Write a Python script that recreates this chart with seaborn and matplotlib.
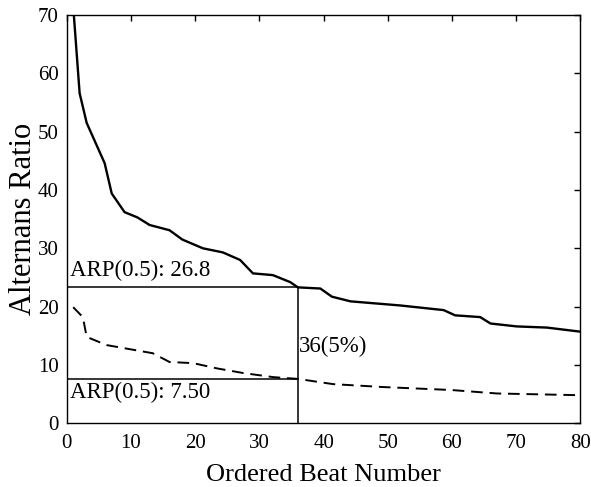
import numpy as np
import pandas as pd
import matplotlib
matplotlib.use("Agg")
import matplotlib.pyplot as plt
import seaborn as sns

# values
solid_x=[1.1,2.0,3.1,5.9,7.0,9.0,11,12.9,16,18,21.2,24.3,27,29,32.1,34.8,36,39.5,41.3,44.2,51.9,58.7,60.5,64.4,66,70.1,74.8,80]
solid_y=[70,56.6,51.5,44.6,39.4,36.2,35.3,34,33.1,31.5,30,29.3,28,25.7,25.4,24.2,23.3,23.1,21.7,20.9,20.2,19.4,18.5,18.2,17.1,16.6,16.4,15.7]
dash_x=[1,2.5,3.1,6.2,13.4,16,19.7,23.4,27.5,32.2,36,41.5,49.3,59.8,67,80]
dash_y=[19.9,18.2,14.8,13.4,12.0,10.5,10.3,9.4,8.6,7.9,7.6,6.7,6.2,5.7,5.1,4.8]

cut_beat=36
arp_hi=23.3
arp_lo=7.5
label_hi="ARP(0.5): 26.8"
label_lo="ARP(0.5): 7.50"
label_cut="36(5%)"

sns.set_style("white")
plt.rcParams['font.family']=['Liberation Serif','DejaVu Serif']
for k in ['text.color','axes.labelcolor','xtick.color','ytick.color','xtick.labelcolor','ytick.labelcolor']:
    plt.rcParams[k]='black'

fig,ax=plt.subplots(figsize=(5.91,4.87),dpi=100)
sns.lineplot(x=solid_x,y=solid_y,ax=ax,color='black',lw=1.7)
sns.lineplot(x=dash_x,y=dash_y,ax=ax,color='black',lw=1.4,linestyle=(0,(6,3.5)))

ax.plot([0,cut_beat],[arp_hi,arp_hi],color='black',lw=1.1)
ax.plot([0,cut_beat],[arp_lo,arp_lo],color='black',lw=1.1)
ax.plot([cut_beat,cut_beat],[0,arp_hi],color='black',lw=1.1)

# annotation text
ax.text(0.5,25.2,label_hi,fontsize=16.5,va='baseline',ha='left')
ax.text(0.5,4.3,label_lo,fontsize=16.5,va='baseline',ha='left')
ax.text(cut_beat+0.2,12.2,label_cut,fontsize=16.5,va='baseline',ha='left')

ax.set_xlim(0,80)
ax.set_ylim(0,70)
ax.set_xticks(np.arange(0,81,10))
ax.set_yticks(np.arange(0,71,10))
ax.tick_params(direction='in',top=True,right=True,length=4,labelsize=15,width=1,colors='black')
ax.tick_params(axis='x',pad=8)
ax.tick_params(axis='y',pad=6)
for s in ax.spines.values():
    s.set_color('black')
    s.set_linewidth(1)
ax.set_xlabel("Ordered Beat Number",fontsize=19,labelpad=7.5)
ax.set_ylabel("Alternans Ratio",fontsize=22,labelpad=0)

plt.subplots_adjust(left=0.113,right=0.982,top=0.969,bottom=0.131)
plt.savefig("out.png",dpi=100)
